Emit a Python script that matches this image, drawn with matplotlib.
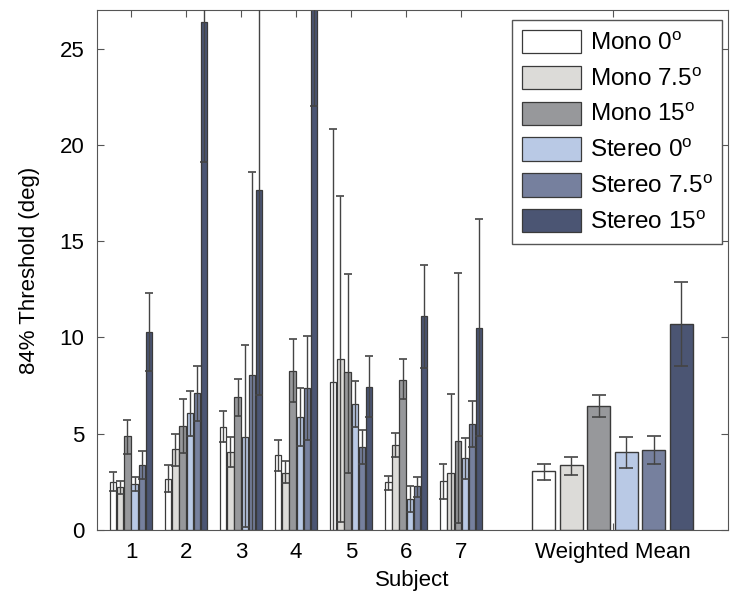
import numpy as np
import matplotlib
matplotlib.use("Agg")
import matplotlib.pyplot as plt

plt.rcParams['font.family'] = ['Liberation Sans', 'DejaVu Sans']
plt.rcParams['mathtext.fontset'] = 'custom'
plt.rcParams['mathtext.rm'] = 'Liberation Sans'

conditions = ["Mono 0", "Mono 7.5", "Mono 15", "Stereo 0", "Stereo 7.5", "Stereo 15"]
colors = ['#ffffff', '#dcdbd8', '#97989b', '#b9c9e5', '#76809e', '#4b5573']
subjects = ["1", "2", "3", "4", "5", "6", "7"]

# threshold per subject (rows) and condition (columns)
thresh = np.array([
    [2.50, 2.20, 4.87, 2.39, 3.37, 10.27],
    [2.65, 4.20, 5.39, 6.07, 7.10, 26.40],
    [5.36, 4.06, 6.90, 4.84, 8.02, 17.67],
    [3.89, 2.95, 8.27, 5.84, 7.38, 32.00],
    [7.66, 8.90, 8.18, 6.54, 4.32, 7.43],
    [2.46, 4.41, 7.81, 1.59, 2.25, 11.10],
    [2.51, 2.94, 4.63, 3.75, 5.48, 10.49],
])
# upper / lower ends of the error bars
upper = np.array([
    [3.00, 2.55, 5.72, 2.75, 4.10, 12.30],
    [3.37, 5.00, 6.80, 7.20, 8.52, 33.70],
    [6.16, 4.84, 7.85, 9.60, 18.57, 28.40],
    [4.69, 3.57, 9.91, 7.38, 10.09, 42.00],
    [20.85, 17.34, 13.31, 7.74, 5.19, 9.02],
    [2.82, 5.05, 8.85, 2.25, 2.76, 13.76],
    [3.42, 7.05, 13.35, 4.79, 6.71, 16.13],
])
lower = np.array([
    [2.00, 1.85, 3.93, 2.00, 2.63, 8.25],
    [1.97, 3.34, 4.00, 4.90, 5.65, 19.10],
    [4.56, 3.28, 5.91, 0.12, -2.50, 6.98],
    [3.03, 2.41, 6.64, 4.37, 4.69, 22.00],
    [-5.50, 0.43, 2.97, 5.33, 3.42, 5.85],
    [2.07, 3.80, 6.78, 0.95, 1.69, 8.42],
    [1.61, -1.20, 0.33, 2.65, 4.29, 4.85],
])

wmean = np.array([3.04, 3.37, 6.43, 4.05, 4.13, 10.68])
wmean_upper = np.array([3.42, 3.80, 6.99, 4.84, 4.89, 12.86])
wmean_lower = np.array([2.60, 2.85, 5.88, 3.20, 3.42, 8.50])

fig = plt.figure(figsize=(7.4, 6.0), dpi=100)
ax = fig.add_axes([0.131, 0.117, 0.853, 0.866])

edge = '#3a3a3a'
x_subj = np.arange(1, len(subjects) + 1)
step = 0.13
for k in range(len(conditions)):
    xs = x_subj + (k - 2.5) * step
    ax.bar(xs, thresh[:, k], width=0.115, color=colors[k], edgecolor=edge,
           linewidth=0.9, label=conditions[k] + r'$^{\mathrm{o}}$', zorder=2)
    ax.errorbar(xs, thresh[:, k],
                yerr=[thresh[:, k] - lower[:, k], upper[:, k] - thresh[:, k]],
                fmt='none', ecolor='#444444', elinewidth=1.0, capsize=3.0,
                capthick=1.2, zorder=3)

# weighted mean group
x_wm = 8.5 + 0.5 * np.arange(len(conditions))
ax.bar(x_wm, wmean, width=0.42, color=colors, edgecolor=edge, linewidth=1.0, zorder=2)
ax.errorbar(x_wm, wmean, yerr=[wmean - wmean_lower, wmean_upper - wmean],
            fmt='none', ecolor='#444444', elinewidth=1.0, capsize=5, capthick=1.2, zorder=3)

ax.set_xlim(0.38, 11.85)
ax.set_ylim(0, 27)
ax.set_xticks(list(x_subj) + [9.75])
ax.set_xticklabels(subjects + ["Weighted Mean"])
ax.set_yticks([0, 5, 10, 15, 20, 25])
ax.tick_params(direction='in', top=True, right=True, labelsize=16, length=5,
               color='#555555', pad=9)
for s in ax.spines.values():
    s.set_color('#555555')
ax.set_xlabel("Subject", fontsize=16, labelpad=5)
ax.set_ylabel("84% Threshold (deg)", fontsize=16, labelpad=14)

leg = ax.legend(loc='upper right', fontsize=17.5, fancybox=False, edgecolor='#555555',
                handlelength=2.45, handleheight=1.1, labelspacing=0.45,
                borderpad=0.4, handletextpad=0.35, framealpha=1,
                borderaxespad=0, bbox_to_anchor=(0.991, 0.981))
leg.get_frame().set_linewidth(1.0)

fig.savefig("out.png", dpi=100)
